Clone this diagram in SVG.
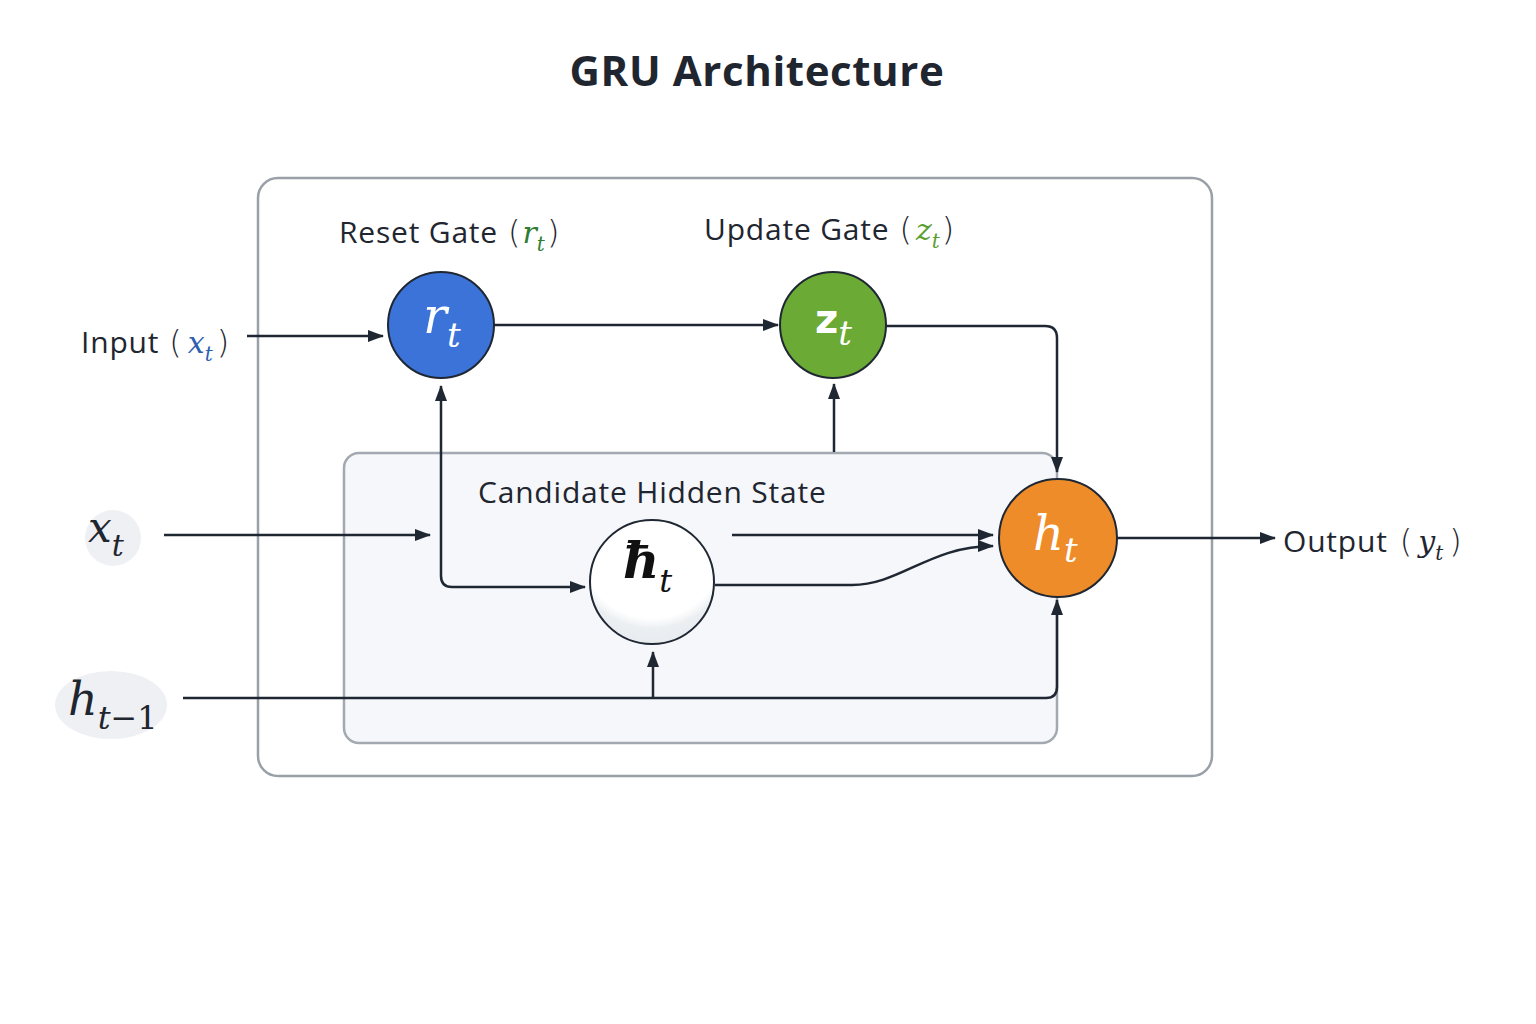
<svg xmlns="http://www.w3.org/2000/svg" width="1536" height="1024" viewBox="0 0 1536 1024">
<defs>
<marker id="arr" viewBox="0 0 16 12" refX="15" refY="6" markerWidth="16" markerHeight="12" markerUnits="userSpaceOnUse" orient="auto-start-reverse">
<path d="M0,0 L16,6 L0,12 Z" fill="#1f2733"/>
</marker>
<radialGradient id="shade" cx="0.5" cy="0.2" r="0.85" fx="0.5" fy="0.25">
<stop offset="0" stop-color="#ffffff"/>
<stop offset="0.68" stop-color="#ffffff"/>
<stop offset="0.78" stop-color="#eceff2"/>
<stop offset="1" stop-color="#e6eaee"/>
</radialGradient>
</defs>
<style>
.lbl{font-family:"Open Sans","Noto Sans","Liberation Sans",sans-serif;font-size:30px;letter-spacing:0.8px;fill:#1f2630}
.title{font-family:"Open Sans","Noto Sans","Liberation Sans",sans-serif;font-size:42px;font-weight:bold;letter-spacing:0.6px;fill:#1f2630}
.math{font-family:"DejaVu Serif","Liberation Serif",serif;font-style:italic;letter-spacing:0}
.par{font-family:"DejaVu Sans","Liberation Sans",sans-serif;font-weight:300;font-size:32px;letter-spacing:0}
.con{fill:none;stroke:#1f2733;stroke-width:2.5}
.node{stroke:#1f2733;stroke-width:2}
</style>
<rect width="1536" height="1024" fill="#ffffff"/>
<text class="title" x="757" y="86" text-anchor="middle">GRU Architecture</text>

<g id="outer-box">
<rect x="258" y="178" width="954" height="598" rx="20" fill="#ffffff" stroke="#9aa0a8" stroke-width="2.5"/>
</g>
<g id="candidate-box">
<rect x="344" y="453" width="713" height="290" rx="15" fill="#f5f7fa" stroke="#a3a9b1" stroke-width="2.5"/>
<text class="lbl" x="478" y="503" letter-spacing="1">Candidate Hidden State</text>
</g>

<g id="labels">
<text class="lbl" x="339" y="243">Reset Gate<tspan class="par" dx="10">(</tspan><tspan class="math" fill="#2e7d32" font-size="30" dx="2">r</tspan><tspan class="math" fill="#2e7d32" font-size="20" dy="8">t</tspan><tspan class="par" dy="-8" dx="2">)</tspan></text>
<text class="lbl" x="704" y="240">Update Gate<tspan class="par" dx="10">(</tspan><tspan class="math" fill="#5a9e2f" font-size="30" dx="4">z</tspan><tspan class="math" fill="#5a9e2f" font-size="20" dy="8">t</tspan><tspan class="par" dy="-8" dx="2">)</tspan></text>
</g>

<g id="input">
<text class="lbl" x="81" y="353">Input<tspan class="par" dx="10">(</tspan><tspan class="math" fill="#2c5fb0" font-size="30" dx="6">x</tspan><tspan class="math" fill="#2c5fb0" font-size="20" dy="8">t</tspan><tspan class="par" dy="-8" dx="4">)</tspan></text>
</g>

<g id="x-t">
<circle cx="113" cy="538" r="28" fill="#eef0f3"/>
<text class="math" x="88" y="542" font-size="42" fill="#1f2630">x<tspan font-size="30" dy="14">t</tspan></text>
</g>

<g id="h-t-1">
<ellipse cx="111" cy="705" rx="56" ry="34" fill="#eef0f3"/>
<text class="math" x="68" y="715" font-size="46" fill="#1f2630">h<tspan font-size="32" dy="14">t</tspan><tspan font-style="normal" font-size="32">−1</tspan></text>
</g>

<g id="output">
<text class="lbl" x="1283" y="552">Output<tspan class="par" dx="12">(</tspan><tspan class="math" font-size="30" dx="6">y</tspan><tspan class="math" font-size="20" dy="8">t</tspan><tspan class="par" dy="-8" dx="6">)</tspan></text>
</g>

<g id="connectors">
<path class="con" d="M247,336 H383" marker-end="url(#arr)"/>
<path class="con" d="M494,325 H778" marker-end="url(#arr)"/>
<path class="con" d="M886,326 H1045 Q1057,326 1057,338 V472" marker-end="url(#arr)"/>
<path class="con" d="M164,535 H430" marker-end="url(#arr)"/>
<path class="con" d="M441,386 V576 Q441,587 452,587 H585" marker-start="url(#arr)" marker-end="url(#arr)"/>
<path class="con" d="M834,452 V384" marker-end="url(#arr)"/>
<path class="con" d="M732,535 H993" marker-end="url(#arr)"/>
<path class="con" d="M715,585 H852 C900,585 930,546 993,546" marker-end="url(#arr)"/>
<path class="con" d="M183,698 H1046 Q1057,698 1057,687 V600" marker-end="url(#arr)"/>
<path class="con" d="M653,698 V652" marker-end="url(#arr)"/>
<path class="con" d="M1117,538 H1275" marker-end="url(#arr)"/>
</g>

<g id="node-r">
<circle class="node" cx="441" cy="325" r="53" fill="#3b73d9"/>
<text class="math" x="423" y="333" font-size="50" fill="#ffffff">r<tspan font-size="34" dy="14">t</tspan></text>
</g>
<g id="node-z">
<circle class="node" cx="833" cy="325" r="53" fill="#6aaa35"/>
<text x="815" y="333" font-family="DejaVu Sans,Liberation Sans,sans-serif" font-weight="bold" font-size="40" fill="#ffffff">z<tspan class="math" font-weight="normal" font-size="34" dy="12">t</tspan></text>
</g>
<g id="node-htilde">
<circle class="node" cx="652" cy="582" r="62" fill="url(#shade)"/>
<text class="math" x="623" y="578" font-size="50" font-weight="bold" fill="#111111">ħ<tspan font-weight="normal" font-size="32" dy="14">t</tspan></text>
</g>
<g id="node-h">
<circle class="node" cx="1058" cy="538" r="59" fill="#ef8c2a"/>
<text class="math" x="1033" y="550" font-size="48" fill="#ffffff">h<tspan font-size="34" dy="12">t</tspan></text>
</g>
</svg>
